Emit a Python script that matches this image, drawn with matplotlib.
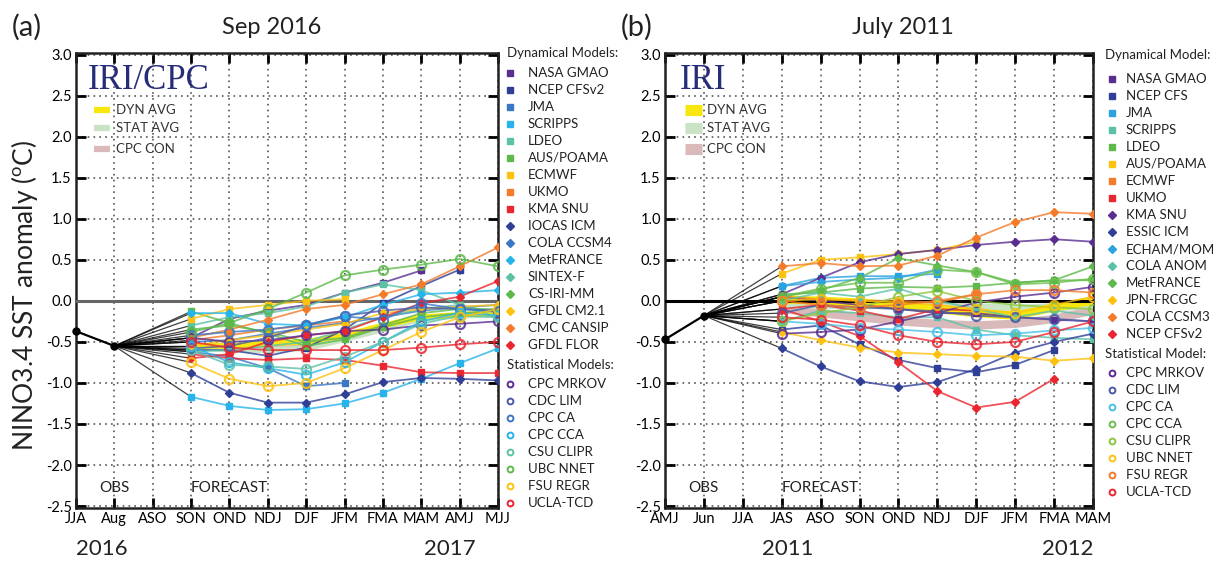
""" NINO3.4 SST anomaly plume, two forecast panels (Sep 2016 and July 2011). """

import matplotlib
matplotlib.use("Agg")
import matplotlib.pyplot as plt

plt.rcParams['font.family'] = ['Lato', 'DejaVu Sans']
plt.rcParams['mathtext.fontset'] = 'custom'
plt.rcParams['mathtext.rm'] = 'Lato'

# ---------------- data: panel (a) Sep 2016 ----------------
a_months = ["JJA", "Aug", "ASO", "SON", "OND", "NDJ", "DJF", "JFM", "FMA", "MAM", "AMJ", "MJJ"]
a_obs = [-0.37, -0.55]          # JJA, Aug
a_start = 3                     # forecasts start at SON

a_dyn_names = ["NASA GMAO", "NCEP CFSv2", "JMA", "SCRIPPS", "LDEO", "AUS/POAMA", "ECMWF",
               "UKMO", "KMA SNU", "IOCAS ICM", "COLA CCSM4", "MetFRANCE", "SINTEX-F",
               "CS-IRI-MM", "GFDL CM2.1", "CMC CANSIP", "GFDL FLOR"]
a_dyn_values = [
    [-0.45, -0.22, -0.12, -0.05, 0.10, 0.22, 0.37],
    [-0.60, -0.60, -0.67, -0.57, -0.35, -0.03, 0.18, 0.38],
    [-0.62, -0.68, -0.82, -1.04, -1.00],
    [-1.17, -1.28, -1.33, -1.32, -1.25, -1.12, -0.95, -0.76, -0.58],
    [-0.30, -0.20, -0.15, -0.07, 0.10, 0.20, 0.13, -0.05, -0.15],
    [-0.13, -0.27, -0.40, -0.55, -0.47, -0.32, -0.20, -0.15, -0.12],
    [-0.22, -0.10, -0.05, 0.00, 0.02],
    [-0.48, -0.42, -0.35, -0.30, -0.25],
    [-0.65, -0.70, -0.72, -0.70, -0.72, -0.79, -0.87, -0.88, -0.88],
    [-0.88, -1.12, -1.24, -1.24, -1.14, -0.99, -0.94, -0.95, -0.97],
    [-0.50, -0.48, -0.40, -0.33, -0.27, -0.20, -0.12, -0.08, -0.05],
    [-0.15, -0.15, -0.28, -0.30, -0.20, -0.05, 0.08, 0.10, 0.13],
    [-0.62, -0.60, -0.55, -0.50, -0.35, -0.20, -0.10, -0.05, -0.20],
    [-0.35, -0.30, -0.38, -0.50, -0.45, -0.30, -0.15, -0.10, -0.10],
    [-0.55, -0.48, -0.42, -0.35, -0.28, -0.15, -0.10, -0.07, -0.05],
    [-0.45, -0.35, -0.23, -0.10, -0.05, 0.08, 0.20, 0.42, 0.65],
    [-0.70, -0.65, -0.50, -0.42, -0.37, -0.20, -0.03, 0.05, 0.24],
]
a_stat_names = ["CPC MRKOV", "CDC LIM", "CPC CA", "CPC CCA", "CSU CLIPR", "UBC NNET",
                "FSU REGR", "UCLA-TCD"]
a_stat_values = [
    [-0.45, -0.50, -0.48, -0.42, -0.37, -0.35, -0.30, -0.28, -0.25],
    [-0.58, -0.55, -0.45, -0.30, -0.18, -0.12, -0.08, -0.10, -0.12],
    [-0.42, -0.38, -0.35, -0.29, -0.19, -0.23, -0.03, -0.10, -0.13],
    [-0.55, -0.75, -0.82, -0.90, -0.75, -0.50, -0.25, -0.15, -0.18],
    [-0.60, -0.78, -0.80, -0.83, -0.68, -0.50, -0.28, -0.18, -0.20],
    [-0.38, -0.27, -0.10, 0.10, 0.31, 0.38, 0.44, 0.51, 0.42],
    [-0.75, -0.95, -1.04, -1.00, -0.82, -0.60, -0.38, -0.20, -0.10],
    [-0.50, -0.57, -0.60, -0.60, -0.60, -0.60, -0.57, -0.53, -0.50],
]
a_dyn_avg = [-0.55, -0.55, -0.52, -0.50, -0.42, -0.30, -0.20, -0.17, -0.15]
a_stat_avg = [-0.55, -0.60, -0.60, -0.58, -0.47, -0.35, -0.22, -0.18, -0.17]
a_cpc_con = [-0.55, -0.55, -0.55, -0.52, -0.45]

# ---------------- data: panel (b) July 2011 ----------------
b_months = ["AMJ", "Jun", "JJA", "JAS", "ASO", "SON", "OND", "NDJ", "DJF", "JFM", "FMA", "MAM"]
b_obs = [-0.47, -0.18]          # AMJ, Jun
b_start = 3                     # forecasts start at JAS

b_dyn_names = ["NASA GMAO", "NCEP CFS", "JMA", "SCRIPPS", "LDEO", "AUS/POAMA", "ECMWF", "UKMO",
               "KMA SNU", "ESSIC ICM", "ECHAM/MOM", "COLA ANOM", "MetFRANCE", "JPN-FRCGC",
               "COLA CCSM3", "NCEP CFSv2"]
b_dyn_values = [
    [0.05, 0.00, -0.05, -0.10, -0.15, -0.15, -0.20, -0.23, -0.25],
    [-0.35, -0.30, -0.53, -0.72, -0.82, -0.87, -0.78, -0.60],
    [0.18, 0.28, 0.30, 0.30, 0.33],
    [-0.25, -0.12, -0.15, -0.20, -0.20, -0.35, -0.42, -0.45, -0.47],
    [0.08, 0.10, 0.15, 0.17, 0.16, 0.18, 0.22, 0.25, 0.25],
    [0.33, 0.50, 0.53, 0.57, 0.62, 0.72],
    [0.05, 0.02, 0.00, 0.00, -0.02, 0.08],
    [-0.10, -0.05, -0.12, -0.22, -0.10, -0.12],
    [0.08, 0.28, 0.47, 0.57, 0.62, 0.68, 0.72, 0.75, 0.72],
    [-0.58, -0.80, -0.98, -1.05, -0.99, -0.83, -0.63, -0.50, -0.40],
    [0.18, 0.23, 0.26, 0.28, 0.38],
    [0.00, 0.10, 0.05, 0.15, 0.00, -0.10, -0.20, -0.12, -0.18],
    [0.05, 0.13, 0.28, 0.52, 0.43, 0.35, 0.22, 0.25, 0.42],
    [-0.38, -0.48, -0.57, -0.63, -0.65, -0.67, -0.68, -0.73, -0.70],
    [0.42, 0.46, 0.42, 0.43, 0.55, 0.77, 0.96, 1.08, 1.06],
    [-0.10, -0.25, -0.43, -0.75, -1.10, -1.30, -1.23, -0.95],
]
b_stat_names = ["CPC MRKOV", "CDC LIM", "CPC CA", "CPC CCA", "CSU CLIPR", "UBC NNET",
                "FSU REGR", "UCLA-TCD"]
b_stat_values = [
    [-0.40, -0.38, -0.35, -0.25, -0.15, -0.02, 0.05, 0.10, 0.17],
    [-0.15, -0.05, -0.08, -0.10, -0.13, -0.18, -0.20, -0.22, -0.25],
    [-0.25, -0.28, -0.33, -0.35, -0.38, -0.42, -0.40, -0.36, -0.33],
    [0.05, 0.15, 0.22, 0.22, 0.38, 0.35, 0.20, 0.22, 0.27],
    [-0.25, -0.15, -0.08, 0.05, 0.12, 0.00, -0.05, -0.08, -0.10],
    [0.00, 0.02, 0.00, -0.02, -0.05, -0.10, -0.15, -0.05, 0.05],
    [0.00, -0.05, -0.08, -0.05, 0.00, 0.08, 0.13, 0.13, 0.10],
    [-0.20, -0.23, -0.30, -0.42, -0.50, -0.53, -0.50, -0.38, -0.25],
]
b_dyn_avg = [0.02, 0.00, -0.02, -0.06, -0.10, -0.15, -0.18, -0.08, 0.00]
b_stat_avg = [-0.05, -0.05, -0.05, -0.05, -0.05, -0.08, -0.10, -0.08, -0.05]
b_cpc_con = [-0.10, -0.15, -0.20, -0.25, -0.28, -0.30, -0.28, -0.22, -0.12]

y_ticks = [-2.5, -2.0, -1.5, -1.0, -0.5, 0.0, 0.5, 1.0, 1.5, 2.0, 2.5, 3.0]

# ---------------- styles ----------------
PURPLE, NAVY, BLUE, CYAN = "#5a2d91", "#2f3f98", "#3b78c3", "#27b4ea"
TEAL, GREEN, GOLD, ORANGE, RED = "#5cc2a6", "#5db94b", "#fdc20f", "#f47b2a", "#ea2630"
SKY = "#2aa3df"

a_dyn_colors = [PURPLE, NAVY, BLUE, CYAN, TEAL, GREEN, GOLD, ORANGE, RED,
                NAVY, BLUE, CYAN, TEAL, GREEN, GOLD, ORANGE, RED]
a_dyn_markers = ["s"] * 9 + ["D"] * 8
a_stat_colors = [PURPLE, "#4a5aa8", BLUE, CYAN, TEAL, GREEN, GOLD, RED]

b_dyn_colors = [PURPLE, NAVY, SKY, TEAL, GREEN, GOLD, ORANGE, RED,
                PURPLE, NAVY, SKY, TEAL, GREEN, GOLD, ORANGE, RED]
b_dyn_markers = ["s"] * 8 + ["D"] * 8
b_stat_colors = [PURPLE, "#4a5aa8", "#45c0e8", "#6cbf4c", "#8cc63f", GOLD, ORANGE, RED]

DYN_C, STAT_C, CON_C = "#f7e70f", "#c9e3c4", "#d9b9b9"


def draw_panel(ax, months, obs, start, dyn_vals, dyn_cols, dyn_marks,
               stat_vals, stat_cols, dyn_avg, stat_avg, cpc_con, zero_color, band):
    obs_x = start - 2
    # consensus bands
    for vals, col in ((cpc_con, CON_C), (stat_avg, STAT_C), (dyn_avg, DYN_C)):
        xs = range(start, start + len(vals))
        ax.plot(xs, vals, color=col, lw=band, solid_capstyle='butt', zorder=3)
    # black connectors from last observation to first forecast
    for vals in dyn_vals + stat_vals:
        ax.plot([obs_x, start], [obs[-1], vals[0]], color="black", lw=0.9, alpha=0.75, zorder=4)
    # model lines
    for vals, col, mk in zip(dyn_vals, dyn_cols, dyn_marks):
        xs = range(start, start + len(vals))
        ax.plot(xs, vals, color=col, lw=1.3, alpha=0.8, zorder=5)
        ax.plot(xs, vals, ls="none", marker=mk, ms=4.5 if mk == "s" else 4.2,
                color=col, zorder=6)
    for vals, col in zip(stat_vals, stat_cols):
        xs = range(start, start + len(vals))
        ax.plot(xs, vals, color=col, lw=1.3, alpha=0.8, zorder=5)
        ax.plot(xs, vals, ls="none", marker="o", ms=6.5, mfc="none", mec=col,
                mew=1.6, alpha=0.85, zorder=6)
    # observations
    ax.plot([obs_x - 1, obs_x], obs, color="black", lw=1.6, marker="o", ms=5,
            zorder=7, clip_on=False)
    ax.axhline(0, color=zero_color, lw=2.2, zorder=4.5)

    ax.set_xlim(0, 11)
    ax.set_ylim(-2.52, 3.02)
    ax.set_xticks(range(12))
    ax.set_xticklabels(months, fontsize=10.5)
    ax.set_yticks(y_ticks)
    ax.set_yticklabels(["%.1f" % v for v in y_ticks], fontsize=10.5)
    ax.grid(True, color="#555555", lw=1.2, ls=(0, (1, 2.5)))
    ax.set_axisbelow(True)
    ax.tick_params(direction="in", length=7, width=2, top=True, right=True, pad=3)
    for sp in ax.spines.values():
        sp.set_linewidth(1.8)
        sp.set_color("#222222")
    ax.text(1, -2.28, "OBS", ha="center", va="center", fontsize=11, color="#222222")
    ax.text(start, -2.28, "FORECAST", ha="left", va="center", fontsize=11, color="#222222")


fig = plt.figure(figsize=(12.22, 5.65), dpi=100)
ax_a = fig.add_axes([0.0622, 0.1014, 0.3453, 0.805])
ax_b = fig.add_axes([0.5442, 0.1014, 0.3502, 0.805])

draw_panel(ax_a, a_months, a_obs, a_start, a_dyn_values, a_dyn_colors, a_dyn_markers,
           a_stat_values, a_stat_colors, a_dyn_avg, a_stat_avg, a_cpc_con, "#666666", 4)
draw_panel(ax_b, b_months, b_obs, b_start, b_dyn_values, b_dyn_colors, b_dyn_markers,
           b_stat_values, b_stat_colors, b_dyn_avg, b_stat_avg, b_cpc_con, "black", 6)

# logos and inner consensus legends
ax_a.text(0.028, 0.94, "IRI/CPC", transform=ax_a.transAxes, family="Liberation Serif",
          fontsize=25, color="#262c7a", va="center", ha="left")
ax_b.text(0.035, 0.94, "IRI", transform=ax_b.transAxes, family="Liberation Serif",
          fontsize=25, color="#262c7a", va="center", ha="left")
for ax, x0, x1, xt, lw in ((ax_a, 0.043, 0.08, 0.095, 4.5), (ax_b, 0.047, 0.086, 0.098, 8)):
    for yy, col, lab in ((0.875, DYN_C, "DYN AVG"), (0.835, STAT_C, "STAT AVG"),
                         (0.789, CON_C, "CPC CON")):
        ax.plot([x0, x1], [yy, yy], transform=ax.transAxes, color=col, lw=lw,
                solid_capstyle='butt')
        ax.text(xt, yy, lab, transform=ax.transAxes, fontsize=9.5, va="center",
                ha="left", color="#333333")

# overlay in pixel coordinates for outer texts and legends
ov = fig.add_axes([0, 0, 1, 1], zorder=-1)
ov.set_xlim(0, 1222)
ov.set_ylim(565, 0)
ov.axis("off")

ov.text(27, 27, "(a)", fontsize=21, ha="center", va="center", color="#222222")
ov.text(272, 27, "Sep 2016", fontsize=17, ha="center", va="center", color="#222222")
ov.text(637, 27, "(b)", fontsize=21, ha="center", va="center", color="#222222")
ov.text(903, 27, "July 2011", fontsize=17, ha="center", va="center", color="#222222")
ov.text(25, 295, r"NINO3.4 SST anomaly ($^{\rm o}$C)", fontsize=19, rotation=90,
        ha="center", va="center", color="#222222")
for xx, txt in ((102, "2016"), (450, "2017"), (788, "2011"), (1068, "2012")):
    ov.text(xx, 549, txt, fontsize=16, ha="center", va="center", color="#222222")


def side_legend(x_mark, x_text, y_head, y_first, step, dyn_names, dyn_cols, dyn_marks,
                stat_names, stat_cols, dyn_head, stat_head):
    ov.text(x_text - 21, y_head, dyn_head, fontsize=9.5, va="center", ha="left", color="#222222")
    y = y_first
    for name, col, mk in zip(dyn_names, dyn_cols, dyn_marks):
        ov.plot([x_mark], [y], marker=mk, ms=3.8 if mk == "s" else 3.6, color=col, ls="none")
        ov.text(x_text, y, name, fontsize=9.5, va="center", ha="left", color="#222222")
        y += step
    y += step * 0.2
    ov.text(x_text - 21, y, stat_head, fontsize=9.5, va="center", ha="left", color="#222222")
    y += step * 1.1
    for name, col in zip(stat_names, stat_cols):
        ov.plot([x_mark], [y], marker="o", ms=4.2, mfc="none", mec=col, mew=1.4, ls="none")
        ov.text(x_text, y, name, fontsize=9.5, va="center", ha="left", color="#222222")
        y += step


side_legend(510, 528, 53, 73, 17.0, a_dyn_names, a_dyn_colors, a_dyn_markers,
            a_stat_names, a_stat_colors, "Dynamical Models:", "Statistical Models:")
side_legend(1112, 1126, 55, 79, 17.0, b_dyn_names, b_dyn_colors, b_dyn_markers,
            b_stat_names, b_stat_colors, "Dynamical Model:", "Statistical Model:")

fig.savefig("out.png", dpi=100)
